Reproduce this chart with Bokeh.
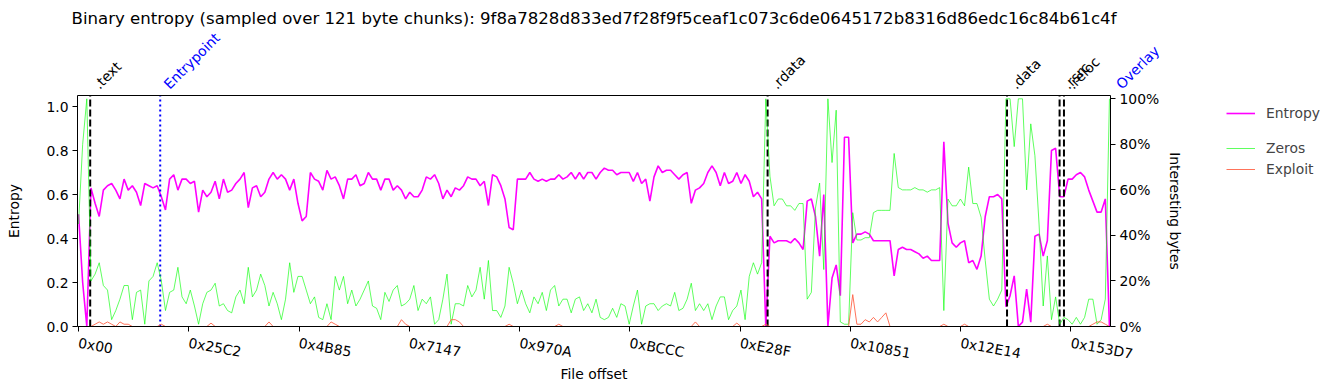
import math
from bokeh.plotting import figure
from bokeh.models import (Range1d, LinearAxis, FixedTicker, Label, Legend,
                          LegendItem, NumeralTickFormatter)
from bokeh.embed import file_html
from bokeh.resources import INLINE

# ---------------- data ----------------
CHUNK = 121                 # bytes per entropy chunk
STEP = 3 * CHUNK            # one value every 3 chunks

entropy = [
    0.51, 0.20, 0.00, 0.63, 0.56, 0.50, 0.62, 0.64, 0.65, 0.62,
    0.58, 0.67, 0.62, 0.64, 0.61, 0.55, 0.65, 0.64, 0.63, 0.64,
    0.59, 0.53, 0.67, 0.69, 0.62, 0.67, 0.67, 0.65, 0.66, 0.52,
    0.62, 0.59, 0.61, 0.66, 0.58, 0.67, 0.61, 0.62, 0.65, 0.67,
    0.70, 0.54, 0.63, 0.64, 0.59, 0.61, 0.67, 0.70, 0.67, 0.69,
    0.67, 0.62, 0.67, 0.56, 0.48, 0.50, 0.70, 0.67, 0.66, 0.62,
    0.71, 0.67, 0.68, 0.64, 0.58, 0.67, 0.67, 0.69, 0.64, 0.65,
    0.70, 0.67, 0.67, 0.62, 0.67, 0.67, 0.62, 0.64, 0.62, 0.58,
    0.61, 0.59, 0.59, 0.62, 0.68, 0.67, 0.69, 0.65, 0.58, 0.62,
    0.59, 0.63, 0.62, 0.64, 0.68, 0.67, 0.67, 0.64, 0.66, 0.55,
    0.69, 0.68, 0.64, 0.58, 0.45, 0.44, 0.67, 0.67, 0.67, 0.70,
    0.67, 0.66, 0.67, 0.66, 0.67, 0.67, 0.69, 0.67, 0.68, 0.70,
    0.67, 0.70, 0.67, 0.70, 0.70, 0.67, 0.70, 0.72, 0.71, 0.71,
    0.69, 0.70, 0.70, 0.70, 0.66, 0.70, 0.65, 0.67, 0.57, 0.68,
    0.73, 0.70, 0.71, 0.71, 0.69, 0.67, 0.69, 0.70, 0.56, 0.62,
    0.63, 0.65, 0.70, 0.73, 0.70, 0.64, 0.70, 0.65, 0.66, 0.70,
    0.65, 0.69, 0.66, 0.59, 0.61, 0.58, 0.00, 0.41, 0.38, 0.39,
    0.39, 0.39, 0.38, 0.40, 0.38, 0.35, 0.57, 0.58, 0.50, 0.32,
    0.60, 0.00, 0.22, 0.28, 0.14, 0.86, 0.86, 0.38, 0.42, 0.42,
    0.43, 0.42, 0.39, 0.39, 0.39, 0.39, 0.39, 0.23, 0.35, 0.36,
    0.35, 0.35, 0.34, 0.33, 0.31, 0.32, 0.30, 0.30, 0.30, 0.84,
    0.47, 0.38, 0.36, 0.38, 0.39, 0.29, 0.30, 0.26, 0.32, 0.50,
    0.59, 0.59, 0.60, 0.58, 0.09, 0.14, 0.23, 0.00, 0.02, 0.17,
    0.02, 0.41, 0.42, 0.32, 0.39, 0.80, 0.81, 0.59, 0.59, 0.67,
    0.67, 0.69, 0.70, 0.68, 0.62, 0.57, 0.52, 0.52, 0.58, 0.00,
]

zeros = [
    0.45, 0.80, 1.00, 0.20, 0.23, 0.28, 0.18, 0.16, 0.03, 0.07,
    0.12, 0.18, 0.18, 0.03, 0.15, 0.16, 0.01, 0.20, 0.22, 0.28,
    0.20, 0.07, 0.15, 0.16, 0.26, 0.13, 0.10, 0.16, 0.09, 0.01,
    0.10, 0.15, 0.16, 0.19, 0.09, 0.10, 0.07, 0.06, 0.13, 0.16,
    0.10, 0.26, 0.13, 0.16, 0.23, 0.18, 0.09, 0.15, 0.10, 0.03,
    0.12, 0.28, 0.15, 0.22, 0.22, 0.16, 0.10, 0.13, 0.04, 0.03,
    0.10, 0.03, 0.22, 0.16, 0.22, 0.10, 0.16, 0.09, 0.12, 0.16,
    0.20, 0.09, 0.08, 0.03, 0.15, 0.11, 0.16, 0.18, 0.09, 0.10,
    0.12, 0.18, 0.07, 0.12, 0.10, 0.13, 0.01, 0.03, 0.12, 0.23,
    0.01, 0.10, 0.10, 0.09, 0.18, 0.13, 0.16, 0.26, 0.12, 0.29,
    0.07, 0.07, 0.04, 0.09, 0.26, 0.19, 0.10, 0.16, 0.10, 0.06,
    0.13, 0.10, 0.15, 0.07, 0.16, 0.18, 0.09, 0.12, 0.12, 0.06,
    0.12, 0.13, 0.07, 0.10, 0.06, 0.12, 0.04, 0.03, 0.04, 0.08,
    0.04, 0.10, 0.09, 0.01, 0.09, 0.16, 0.01, 0.09, 0.10, 0.10,
    0.07, 0.09, 0.10, 0.09, 0.15, 0.07, 0.08, 0.12, 0.19, 0.07,
    0.10, 0.07, 0.10, 0.03, 0.09, 0.13, 0.13, 0.03, 0.07, 0.09,
    0.16, 0.03, 0.22, 0.28, 0.23, 0.28, 1.00, 0.66, 0.53, 0.56,
    0.56, 0.53, 0.53, 0.51, 0.54, 0.54, 0.12, 0.15, 0.52, 0.63,
    0.25, 1.00, 0.72, 0.95, 0.02, 0.01, 0.01, 0.50, 0.38, 0.38,
    0.39, 0.39, 0.50, 0.51, 0.51, 0.51, 0.51, 0.76, 0.61, 0.60,
    0.60, 0.60, 0.61, 0.60, 0.60, 0.59, 0.60, 0.60, 0.61, 0.07,
    0.56, 0.53, 0.53, 0.56, 0.53, 0.70, 0.54, 0.54, 0.48, 0.29,
    0.12, 0.09, 0.12, 0.16, 1.00, 1.00, 0.79, 1.00, 1.00, 0.60,
    0.89, 0.75, 0.45, 0.09, 0.31, 0.03, 0.13, 0.01, 0.04, 0.03,
    0.01, 0.04, 0.01, 0.04, 0.12, 0.12, 0.01, 0.03, 0.12, 1.00,
]

exploit = [
    0, 0, 0, 0, 0.01, 0.02, 0.01, 0.02, 0.01, 0,
    0.02, 0.01, 0.01, 0, 0, 0, 0, 0, 0, 0,
    0.01, 0, 0, 0, 0, 0, 0, 0, 0, 0,
    0, 0, 0.015, 0, 0, 0, 0, 0, 0, 0,
    0, 0, 0, 0, 0, 0, 0.02, 0, 0, 0,
    0, 0, 0, 0, 0, 0, 0, 0, 0, 0,
    0, 0.02, 0.01, 0, 0, 0, 0, 0, 0, 0,
    0, 0, 0, 0, 0, 0, 0, 0, 0.03, 0.01,
    0, 0, 0, 0, 0, 0, 0, 0, 0, 0,
    0.03, 0.03, 0.02, 0, 0, 0, 0, 0, 0, 0,
    0, 0, 0, 0, 0.01, 0, 0, 0, 0, 0,
    0, 0, 0, 0, 0, 0, 0.01, 0, 0, 0,
    0, 0, 0, 0, 0, 0, 0, 0, 0, 0,
    0, 0, 0, 0, 0, 0, 0, 0, 0, 0,
    0, 0, 0, 0, 0, 0, 0, 0, 0, 0.02,
    0, 0, 0, 0, 0, 0, 0, 0, 0, 0.015,
    0, 0, 0, 0, 0, 0, 0.01, 0, 0, 0,
    0, 0, 0, 0, 0, 0, 0, 0, 0, 0,
    0, 0, 0, 0, 0, 0, 0, 0.14, 0.01, 0.01,
    0.03, 0.02, 0.04, 0.02, 0.04, 0.06, 0, 0, 0, 0,
    0, 0, 0, 0, 0, 0, 0, 0, 0, 0.01,
    0, 0, 0, 0, 0.01, 0, 0, 0, 0, 0,
    0, 0, 0, 0, 0, 0, 0, 0, 0, 0,
    0, 0, 0, 0, 0.01, 0, 0, 0, 0, 0,
    0, 0, 0, 0, 0, 0.01, 0.02, 0.02, 0.01, 0,
]

offsets = [i * STEP for i in range(len(entropy))]

tick_offsets = [0x00, 0x25C2, 0x4B85, 0x7147, 0x970A, 0xBCCC, 0xE28F, 0x10851, 0x12E14, 0x153D7]
tick_labels = ["0x00", "0x25C2", "0x4B85", "0x7147", "0x970A", "0xBCCC", "0xE28F", "0x10851", "0x12E14", "0x153D7"]

section_names = [".text", ".rdata", ".data", ".rsrc", ".reloc"]
section_offsets = [0x400, 0xEC00, 0x13E00, 0x15000, 0x15180]
entry_name, entry_offset = "Entrypoint", 7162
overlay_name, overlay_offset = "Overlay", 90655

file_hash = "9f8a7828d833ed7f28f9f5ceaf1c073c6de0645172b8316d86edc16c84b61c4f"
title_text = "Binary entropy (sampled over %d byte chunks): %s" % (CHUNK, file_hash)

X_LO, X_HI = -90, 90480      # visible file-offset span
Y_TOP = 1.05                 # entropy axis top
PCT_TOP = 1.0145             # interesting-bytes axis top

# ---------------- geometry (pixels) ----------------
W, H = 1320, 390
AX_L, AX_R, AX_T, AX_B = 77, 1110, 95, 326     # the axes box inside the canvas

bpp = (X_HI - X_LO) / (AX_R - AX_L)
upp = Y_TOP / (AX_B - AX_T)
ppp = PCT_TOP / (AX_B - AX_T)
x_rng = Range1d(X_LO - AX_L * bpp, X_HI + (W - AX_R) * bpp)
y_rng = Range1d(-(H - AX_B) * upp, Y_TOP + AX_T * upp)
pct_rng = Range1d(-(H - AX_B) * ppp, PCT_TOP + AX_T * ppp)

FONT = "DejaVu Sans"
FS = "13.9px"

p = figure(width=W, height=H, output_backend="svg", toolbar_location=None,
           x_range=x_rng, y_range=y_rng, x_axis_location=None, y_axis_location=None,
           title_location=None, min_border=0)
p.extra_y_ranges = {"pct": pct_rng}
p.grid.visible = False
p.outline_line_color = None
p.background_fill_color = "white"
p.border_fill_color = "white"

# ---------------- data lines ----------------
r_e = p.line(offsets, entropy, line_color="#ff00ff", line_width=1.6)
p.segment(x0=section_offsets, y0=[0] * len(section_offsets),
          x1=section_offsets, y1=[Y_TOP] * len(section_offsets),
          line_color="black", line_width=2, line_dash="7 3")
p.segment(x0=[entry_offset], y0=[0], x1=[entry_offset], y1=[Y_TOP],
          line_color="blue", line_width=2, line_dash="2 3")
r_z = p.line(offsets, zeros, line_color="#00ff00", line_alpha=0.7, line_width=0.9, y_range_name="pct")
r_x = p.line(offsets, exploit, line_color="#ff6347", line_width=0.9, y_range_name="pct")

# ---------------- axes (fixed in place, forming the box) ----------------
def style(ax):
    ax.major_tick_out = 5
    ax.major_tick_in = 0
    ax.minor_tick_line_color = None
    ax.axis_line_color = "black"
    ax.axis_line_width = 1
    ax.major_tick_line_color = "black"
    ax.major_label_text_font = FONT
    ax.major_label_text_font_size = FS
    ax.major_label_text_color = "black"
    ax.axis_label_text_font = FONT
    ax.axis_label_text_font_size = FS
    ax.axis_label_text_font_style = "normal"
    ax.axis_label_text_color = "black"
    ax.major_label_standoff = 4
    return ax

ax_left = style(LinearAxis(fixed_location=X_LO, bounds=(0, Y_TOP), axis_label="Entropy",
                           ticker=FixedTicker(ticks=[0, 0.2, 0.4, 0.6, 0.8, 1.0]),
                           formatter=NumeralTickFormatter(format="0.0")))
ax_left.axis_label_standoff = 21
p.add_layout(ax_left, "left")

ax_bottom = style(LinearAxis(fixed_location=0, bounds=(X_LO, X_HI), axis_label="File offset",
                             ticker=FixedTicker(ticks=tick_offsets)))
ax_bottom.major_label_overrides = {t: l for t, l in zip(tick_offsets, tick_labels)}
ax_bottom.major_label_orientation = -0.18
ax_bottom.major_label_standoff = 11
ax_bottom.axis_label_standoff = -7
p.add_layout(ax_bottom, "below")

ax_right = style(LinearAxis(y_range_name="pct", fixed_location=X_HI, bounds=(0, PCT_TOP),
                            axis_label="Interesting bytes",
                            ticker=FixedTicker(ticks=[0, 0.2, 0.4, 0.6, 0.8, 1.0]),
                            formatter=NumeralTickFormatter(format="0%")))
ax_right.axis_label_standoff = 5
p.add_layout(ax_right, "right")

ax_top = style(LinearAxis(fixed_location=Y_TOP, bounds=(X_LO, X_HI),
                          ticker=FixedTicker(ticks=[])))
p.add_layout(ax_top, "above")

# ---------------- names above the box ----------------
NAME_Y = Y_TOP + 9 * upp
for name, off in zip(section_names, section_offsets):
    p.add_layout(Label(x=off, y=NAME_Y, text=name, angle=math.pi / 4,
                       text_align="left", text_baseline="alphabetic", x_offset=6,
                       text_font=FONT, text_font_size=FS, text_color="black"))
for name, off in ((entry_name, entry_offset), (overlay_name, overlay_offset)):
    p.add_layout(Label(x=off, y=NAME_Y, text=name, angle=math.pi / 4,
                       text_align="left", text_baseline="alphabetic", x_offset=6,
                       text_font=FONT, text_font_size=FS, text_color="blue"))

# ---------------- title ----------------
p.add_layout(Label(x=(X_LO + X_HI) / 2, y=Y_TOP + (AX_T - 18) * upp, text=title_text,
                   text_align="center", text_baseline="middle",
                   text_font=FONT, text_font_size="16.6px", text_color="black"))

# ---------------- legend ----------------
common = dict(glyph_width=29, glyph_height=20, label_height=20, label_standoff=11,
              padding=0, margin=0, spacing=1, border_line_alpha=0,
              background_fill_alpha=0, label_text_font=FONT, label_text_font_size=FS)
leg1 = Legend(items=[LegendItem(label="Entropy", renderers=[r_e])],
              location=(1226, H - 123), **common)
leg2 = Legend(items=[LegendItem(label="Zeros", renderers=[r_z]),
                     LegendItem(label="Exploit", renderers=[r_x])],
              location=(1226, H - 179), **common)
p.add_layout(leg1)
p.add_layout(leg2)

open("out.html", "w").write(file_html(p, INLINE))
